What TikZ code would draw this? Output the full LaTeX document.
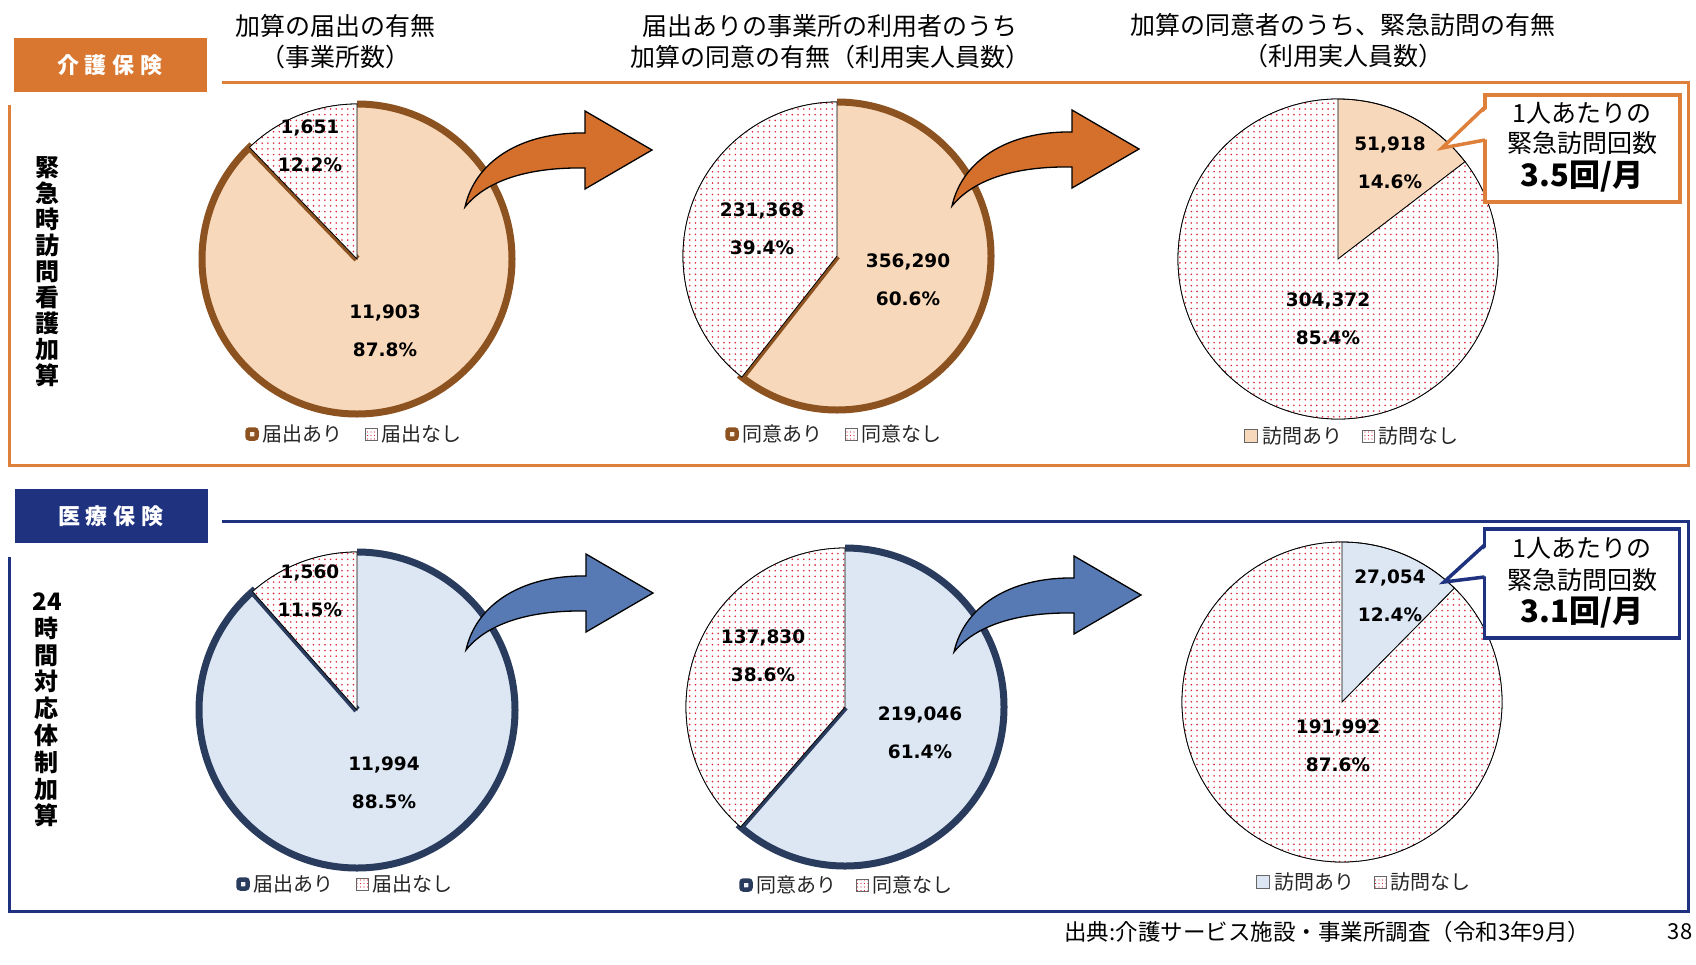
\documentclass[tikz,border=0pt]{standalone}
\usepackage{fontspec}
\setmainfont{Noto Sans CJK JP}
\newfontfamily\numfont{DejaVu Sans}
\usetikzlibrary{positioning,patterns.meta}
\definecolor{hdrorange}{RGB}{217,118,48}
\definecolor{lineorange}{RGB}{222,128,58}
\definecolor{arroworange}{RGB}{213,112,44}
\definecolor{peach}{RGB}{248,216,186}
\definecolor{pbrown}{RGB}{140,82,32}
\definecolor{hdrnavy}{RGB}{30,50,128}
\definecolor{lblue}{RGB}{221,231,243}
\definecolor{pslate}{RGB}{42,60,94}
\definecolor{arrowblue}{RGB}{88,122,180}
\definecolor{dotred}{RGB}{222,40,60}
\tikzset{pics/bendarrow/.style={code={
  \draw[fill=#1,line width=1.3pt,line join=miter] (0,0) .. controls (10,-45) and (55,-75) .. (120,-74)
    -- (120,-96) -- (187,-57) -- (120,-18) -- (120,-39) .. controls (60,-40) and (20,-25) .. (0,0) -- cycle;}}}
\begin{document}
\begin{tikzpicture}[x=1pt,y=-1pt,
  hdr/.style={minimum width=193pt,minimum height=54pt,inner sep=0pt,text=white,font=\fontsize{22}{26}\selectfont\bfseries},
  title/.style={align=center,font=\fontsize{25}{31}\selectfont},
  vlabel/.style={align=center,font=\fontsize{24}{26}\selectfont\bfseries},
  numlbl/.style={align=center,inner sep=0pt,font=\numfont\bfseries\fontsize{18.5}{38}\selectfont},
  legtext/.style={inner sep=0pt,text=black!85,font=\fontsize{20}{22}\selectfont},
  brownkey/.style={draw=pbrown,line width=4.5pt,fill=peach!40,minimum size=9pt,inner sep=0pt,rounded corners=2pt},
  slatekey/.style={draw=pslate,line width=4.5pt,fill=lblue!40,minimum size=9pt,inner sep=0pt,rounded corners=2pt},
  peachkey/.style={draw=black!60,line width=0.6pt,fill=peach,minimum size=13pt,inner sep=0pt},
  bluekey/.style={draw=black!60,line width=0.6pt,fill=lblue,minimum size=13pt,inner sep=0pt},
  dotkey/.style={draw=black!60,line width=0.6pt,pattern={Dots[distance=3.5pt,radius=0.7pt]},pattern color=dotred,minimum size=12pt,inner sep=0pt},
  calbox/.style={draw=#1,line width=3.5pt,fill=white,outer sep=0pt,minimum width=195pt,minimum height=107pt},
  caltext/.style={font=\fontsize{25}{28}\selectfont},
  calbig/.style={font=\fontsize{31}{34}\selectfont\bfseries}]
\useasboundingbox (0,0) rectangle (1696,964);
\fill[white] (0,0) rectangle (1696,964);
% headers and frames
\node[hdr,fill=hdrorange] (kaigo) at (110,65) {介\hspace{6pt}護\hspace{6pt}保\hspace{6pt}険};
\node[hdr,fill=hdrnavy] (iryo) at (111,516) {医\hspace{6pt}療\hspace{6pt}保\hspace{6pt}険};
\draw[lineorange,line width=3pt] (222,82) -| (1688,465) -| (9,105);
\draw[hdrnavy,line width=3pt] (222,521) -| (1688,911) -| (9,557);
\node[title] (t1) at (335,41.5) {加算の届出の有無\\（事業所数）};
\node[title] (t2) at (830,41.5) {届出ありの事業所の利用者のうち\\加算の同意の有無（利用実人員数）};
\node[title] (t3) at (1343,40.5) {加算の同意者のうち、緊急訪問の有無\\（利用実人員数）};
\node[vlabel] (v1) at (47,272) {緊\\急\\時\\訪\\問\\看\\護\\加\\算};
\node[vlabel,font=\fontsize{24}{26.8}\selectfont\bfseries] (v2) at (47,710) {24\\時\\間\\対\\応\\体\\制\\加\\算};
% pies
\foreach \cx/\cy/\rr/\ang/\fc/\bc/\lw in {357/259/155/226.08/peach/pbrown/7pt, 837/256/154/128.16/peach/pbrown/7pt,
    1338/259/160/-37.44/peach/black/0.8pt, 357/710/158/228.6/lblue/pslate/7pt,
    845/707/159/131.04/lblue/pslate/7pt, 1342/702/160/-45.36/lblue/black/0.8pt}{
  \fill[\fc] (\cx,\cy) -- ++(-90:\rr) arc[start angle=-90,end angle=\ang,radius=\rr] -- cycle;
  \draw[line width=0.8pt] (\cx,\cy) circle[radius=\rr];
  \draw[\bc,line width=\lw] (\cx,\cy) ++(-90:\rr) arc[start angle=-90,end angle=\ang,radius=\rr] -- (\cx,\cy);
  \fill[white] (\cx,\cy) -- ++(\ang:\rr) arc[start angle=\ang,end angle=270,radius=\rr] -- cycle;
  \fill[pattern={Dots[distance=5.7pt,radius=0.9pt]},pattern color=dotred] (\cx,\cy) -- ++(\ang:\rr)
    arc[start angle=\ang,end angle=270,radius=\rr] -- cycle;
  \draw[line width=0.8pt] (\cx,\cy) -- ++(\ang:\rr) arc[start angle=\ang,end angle=270,radius=\rr] -- cycle;
}
\foreach \x/\y/\t [count=\i] in {310/146/{1,651\\12.2\%}, 385/331/{11,903\\87.8\%},
    762/229/{231,368\\39.4\%}, 908/280/{356,290\\60.6\%},
    1390/162.5/{51,918\\14.6\%}, 1328/319/{304,372\\85.4\%},
    310/591/{1,560\\11.5\%}, 384/782.5/{11,994\\88.5\%},
    763/656/{137,830\\38.6\%}, 920/732.5/{219,046\\61.4\%},
    1390/596/{27,054\\12.4\%}, 1338/746/{191,992\\87.6\%}}
  \node[numlbl] (lbl\i) at (\x,\y) {\t};
% legends
\foreach \x/\y/\mk/\t [count=\i] in {252/434/brownkey/届出あり, 371/434/dotkey/届出なし,
    732/434/brownkey/同意あり, 851/434/dotkey/同意なし, 1251/436/peachkey/訪問あり, 1368/436/dotkey/訪問なし,
    243/884/slatekey/届出あり, 362/884/dotkey/届出なし, 746/885/slatekey/同意あり, 862/885/dotkey/同意なし,
    1263/882/bluekey/訪問あり, 1380/882/dotkey/訪問なし}{
  \node[\mk] (key\i) at (\x,\y) {};
  \node[legtext,right=4pt of key\i] (leg\i) {\t};
}
% arrows
\pic at (465,207) {bendarrow=arroworange};
\pic at (952,206) {bendarrow=arroworange};
\pic at (466,650) {bendarrow=arrowblue};
\pic at (954,652) {bendarrow=arrowblue};
% callouts
\node[calbox=lineorange] (box1) at (1582.5,148.5) {};
\coordinate (tip1) at (1442,148);
\fill[white] ([yshift=-13pt,xshift=3pt]box1.north west) -- (tip1) -- ([yshift=-44pt,xshift=3pt]box1.north west) -- cycle;
\draw[lineorange,line width=3.5pt] ([yshift=-12pt]box1.north west) -- (tip1) -- ([yshift=-45pt]box1.north west);
\node[caltext] (c1a) at (1582,113) {1人あたりの};
\node[caltext] (c1b) at (1582,143) {緊急訪問回数};
\node[calbig] (c1c) at (1582,177) {3.5回/月};
\node[calbox=hdrnavy,minimum height=109pt] (box2) at (1582,583.5) {};
\coordinate (tip2) at (1444,582);
\fill[white] ([yshift=-17pt,xshift=3pt]box2.north west) -- (tip2) -- ([yshift=-47pt,xshift=3pt]box2.north west) -- cycle;
\draw[hdrnavy,line width=3.5pt] ([yshift=-16pt]box2.north west) -- (tip2) -- ([yshift=-48pt]box2.north west);
\node[caltext] (c2a) at (1582,548) {1人あたりの};
\node[caltext] (c2b) at (1582,580) {緊急訪問回数};
\node[calbig] (c2c) at (1582,613) {3.1回/月};
% source
\node[anchor=east,font=\fontsize{22.5}{26}\selectfont] (src) at (1594,932) {出典:介護サービス施設・事業所調査（令和3年9月）};
\node[font=\fontsize{22}{26}\selectfont] (pg) at (1680,932) {38};
\end{tikzpicture}
\end{document}
